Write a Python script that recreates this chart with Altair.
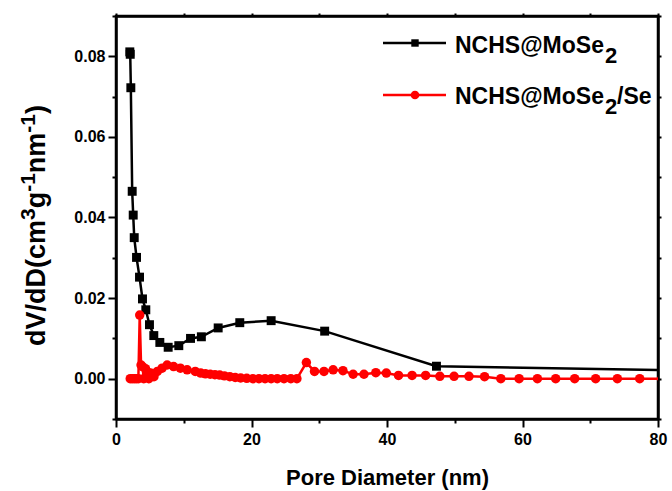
import altair as alt
import pandas as pd

# ---- data ----
black_x = [2.04, 2.10, 2.19, 2.39, 2.54, 2.69, 3.03, 3.47, 3.91, 4.40, 4.94, 5.58, 6.47,
           7.70, 9.27, 11.0, 12.6, 15.08, 18.27, 22.9, 30.8, 47.3, 100.0]
black_y = [0.0811, 0.0805, 0.0722, 0.0465, 0.0406, 0.0350, 0.0301, 0.0252, 0.0198, 0.0171,
           0.0134, 0.0107, 0.0090, 0.0078, 0.0082, 0.0100, 0.0104, 0.0126, 0.0139, 0.0144,
           0.0118, 0.0031, 0.0016]

red_x = [2.1, 2.4, 2.7, 3.0, 3.3, 3.5, 3.7, 3.9, 4.1, 4.35, 4.6, 4.85, 5.1, 5.6, 6.1, 6.8,
         7.55, 8.5, 9.5, 10.5, 11.7, 12.5, 13.2, 13.9, 14.6, 15.3, 16.0, 16.8, 17.6, 18.4,
         19.3, 20.2, 21.1, 22.0, 22.9, 23.8, 24.8, 25.8, 26.7, 28.1, 29.3, 30.7, 32.05, 33.5,
         35.0, 36.6, 38.35, 39.9, 41.7, 43.7, 45.7, 47.8, 49.9, 52.1, 54.4, 56.8, 59.5, 62.2,
         64.9, 67.7, 70.8, 74.0, 77.3, 80.6]
red_y = [0.0, 0.0, 0.0, 0.0, 0.0, 0.0158, 0.0034, 0.0030, 0.0, 0.0025, 0.0017, 0.0, 0.0014,
         0.0005, 0.0018, 0.0026, 0.0034, 0.0030, 0.0026, 0.0022, 0.0018, 0.0014, 0.0012,
         0.0011, 0.0010, 0.0009, 0.0007, 0.0005, 0.0003, 0.0002, 0.0001, 0.0, 0.0, 0.0, 0.0,
         0.0, 0.0, 0.0, 0.0, 0.0040, 0.0018, 0.0018, 0.0022, 0.0020, 0.0011, 0.0011, 0.0015,
         0.0014, 0.0008, 0.0008, 0.0008, 0.0006, 0.0006, 0.0006, 0.0005, 0.0, 0.0, 0.0, 0.0,
         0.0, 0.0, 0.0, 0.0, 0.0]

series_names = ["NCHS@MoSe", "NCHS@MoSe"]
series_subs = ["2", "2"]
series_tails = ["", "/Se"]
series_colors = ["black", "red"]

x_ticks = [0, 10, 20, 30, 40, 50, 60, 70, 80]
y_ticks = [-0.01, 0.0, 0.01, 0.02, 0.03, 0.04, 0.05, 0.06, 0.07, 0.08, 0.09]

x_title = "Pore Diameter (nm)"
y_title_pieces = [("dV/dD(cm", False), ("3", True), ("g", False), ("-1", True),
                  ("nm", False), ("-1", True), (")", False)]

# ---- styling ----
FONT = "Liberation Sans, Arial"

df_black = pd.DataFrame({"d": black_x, "v": black_y, "i": list(range(len(black_x)))})
df_red = pd.DataFrame({"d": red_x, "v": red_y, "i": list(range(len(red_x)))})

xscale = alt.Scale(domain=[0, 80], nice=False, zero=False)
yscale = alt.Scale(domain=[-0.01, 0.09], nice=False, zero=False)

common = dict(grid=False, tickColor="black", tickWidth=2, domainColor="black",
              domainWidth=2.5, labelOverlap=False, labelFlush=False)

x_bottom = alt.Axis(orient="bottom", values=x_ticks, format="d",
                    labelExpr="datum.value % 20 === 0 ? datum.label : ''",
                    tickSize={"condition": {"test": "datum.value % 20 === 0", "value": 8}, "value": 4},
                    labelFont=FONT, labelFontSize=16, labelFontWeight="bold",
                    labelColor="black", labelPadding=4,
                    title=x_title, titleFont=FONT, titleFontSize=22,
                    titleFontWeight="bold", titleColor="black", titlePadding=20, **common)
y_left = alt.Axis(orient="left", values=y_ticks,
                  labelExpr="abs(round(datum.value*100)) % 2 === 0 ? format(datum.value, '.2f') : ''",
                  tickSize={"condition": {"test": "abs(round(datum.value*100)) % 2 === 0", "value": 8}, "value": 4},
                  labelFont=FONT, labelFontSize=16, labelFontWeight="bold",
                  labelColor="black", labelPadding=3, title=None, **common)
x_top = alt.Axis(orient="top", values=x_ticks, labels=False, tickSize=3, title=None, **common)
y_right = alt.Axis(orient="right", values=y_ticks, labels=False, tickSize=3, title=None, **common)

black_line = alt.Chart(df_black).mark_line(color="black", strokeWidth=2.5, clip=True).encode(
    x=alt.X("d:Q", scale=xscale, axis=x_bottom),
    y=alt.Y("v:Q", scale=yscale, axis=y_left),
    order="i:Q")
black_pts = alt.Chart(df_black).mark_point(shape="square", filled=True, size=80, color="black",
                                           opacity=1, clip=True).encode(
    x=alt.X("d:Q", scale=xscale, axis=None),
    y=alt.Y("v:Q", scale=yscale, axis=None))
red_line = alt.Chart(df_red).mark_line(color="red", strokeWidth=2.5, clip=True).encode(
    x=alt.X("d:Q", scale=xscale, axis=x_top),
    y=alt.Y("v:Q", scale=yscale, axis=y_right),
    order="i:Q")
red_pts = alt.Chart(df_red).mark_point(shape="circle", filled=True, size=90, color="red",
                                       opacity=1, clip=True).encode(
    x=alt.X("d:Q", scale=xscale, axis=None),
    y=alt.Y("v:Q", scale=yscale, axis=None))

# ---- legend (drawn by hand to allow subscripts) ----
legend_layers = []
rows_y = [27, 79]
text_dy = [10, 9]
sub_dy = [20, 19]
shapes = ["square", "circle"]
msizes = [55, 75]
for k in range(2):
    one = pd.DataFrame({"name": [series_names[k]], "sub": [series_subs[k]], "tail": [series_tails[k]]})
    ly = rows_y[k]
    legend_layers.append(alt.Chart(one).mark_rule(color=series_colors[k], strokeWidth=2.5).encode(
        x=alt.value(267), x2=alt.value(330), y=alt.value(ly)))
    legend_layers.append(alt.Chart(one).mark_point(shape=shapes[k], filled=True, opacity=1,
                                                   size=msizes[k], color=series_colors[k]).encode(
        x=alt.value(299), y=alt.value(ly)))
    legend_layers.append(alt.Chart(one).mark_text(font=FONT, fontSize=23, fontWeight="bold",
                                                  align="left", baseline="alphabetic", color="black").encode(
        x=alt.value(339), y=alt.value(ly + text_dy[k]), text="name:N"))
    legend_layers.append(alt.Chart(one).mark_text(font=FONT, fontSize=22, fontWeight="bold",
                                                  align="left", baseline="alphabetic", color="black").encode(
        x=alt.value(489), y=alt.value(ly + sub_dy[k]), text="sub:N"))
    if series_tails[k]:
        legend_layers.append(alt.Chart(one).mark_text(font=FONT, fontSize=23, fontWeight="bold",
                                                      align="left", baseline="alphabetic", color="black").encode(
            x=alt.value(501), y=alt.value(ly + text_dy[k]), text="tail:N"))

# ---- y title pieces, rotated ----
cw = {'d': .611, 'V': .667, '/': .278, 'D': .722, '(': .333, 'c': .556, 'm': .889, '3': .556,
      'g': .611, '-': .333, '1': .556, 'n': .611, ')': .333}
rows = []
pos = 330.0
for txt, sup in y_title_pieces:
    fs = 21 if sup else 27
    rows.append({"t": txt, "py": pos, "px": -81 if sup else -71, "fs": fs})
    pos -= sum(cw[c] for c in txt) * fs
df_yt = pd.DataFrame(rows)
ytitle = alt.Chart(df_yt).mark_text(font=FONT, fontWeight="bold", angle=270, align="left",
                                    baseline="alphabetic", color="black").encode(
    x=alt.X("px:Q", scale=None, axis=None),
    y=alt.Y("py:Q", scale=None, axis=None),
    text="t:N",
    size=alt.Size("fs:Q", scale=None, legend=None))

chart = alt.layer(black_line, black_pts, red_line, red_pts, ytitle, *legend_layers).resolve_axis(
    x="independent", y="independent").resolve_scale(x="shared", y="shared").properties(
    width=542, height=403,
    padding={"left": 116, "top": 16, "right": 14, "bottom": 72},
    autosize=alt.AutoSizeParams(type="none"),
    background="white"
).configure_view(stroke="black", strokeWidth=2.5)

chart.save("out.html", embed_options={"renderer": "svg", "actions": False})
